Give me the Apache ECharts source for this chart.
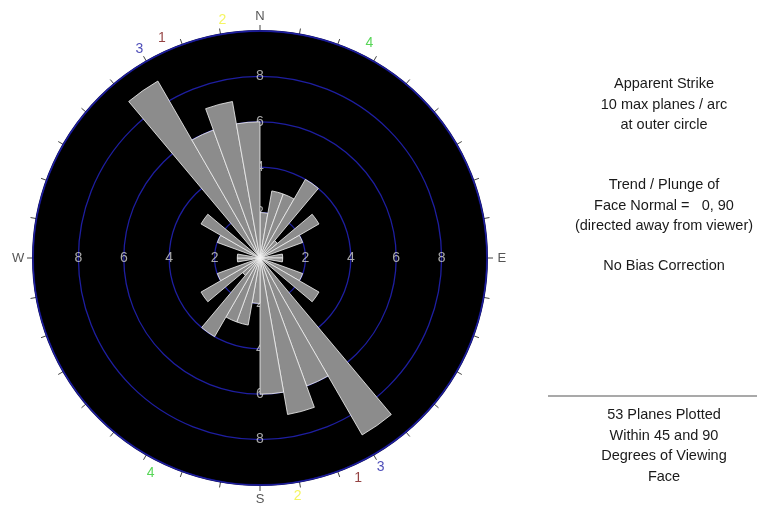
<!DOCTYPE html>
<html>
<head>
<meta charset="utf-8">
<style>
  html, body { margin: 0; padding: 0; background: #ffffff; }
  #chart { width: 757px; height: 506px; }
</style>
<script src="https://cdn.jsdelivr.net/npm/echarts@6/dist/echarts.min.js"></script>
</head>
<body>
<div id="chart"></div>
<script>
// 10-degree strike bins, bearing measured clockwise from north
const binNames = [
  '0-10','10-20','20-30','30-40','40-50','50-60','60-70','70-80','80-90',
  '90-100','100-110','110-120','120-130','130-140','140-150','150-160','160-170','170-180',
  '180-190','190-200','200-210','210-220','220-230','230-240','240-250','250-260','260-270',
  '270-280','280-290','290-300','300-310','310-320','320-330','330-340','340-350','350-360'
];
// planes per arc (bidirectional strike, so each bin repeats 180 degrees on)
const planeCounts = [
  2, 3, 3, 4, 1, 3, 2, 0, 1,
  1, 0, 2, 3, 0, 9, 6, 7, 6,
  2, 3, 3, 4, 1, 3, 2, 0, 1,
  1, 0, 2, 3, 0, 9, 6, 7, 6
];

// ring scale
const ringValues = [2, 4, 6, 8];
const ringLabelBearings = [0, 90, 180, 270];

// compass letters
const compassLetters = ['N', 'E', 'S', 'W'];
const compassBearings = [0, 90, 180, 270];

// joint set markers around the rim
const setNames = ['1', '2', '3', '4', '1', '2', '3', '4'];
const setBearings = [336, 351, 330, 27, 156, 171, 150, 207];
const setColors = {
  '1': '#7a1414',
  '2': '#f2f23c',
  '3': '#1e1ea6',
  '4': '#2ecc2e'
};

// side notes
const infoTop = ['Apparent Strike', '10 max planes / arc', 'at outer circle'];
const infoMiddle = ['Trend / Plunge of', 'Face Normal =   0, 90', '(directed away from viewer)'];
const infoBias = ['No Bias Correction'];
const infoBottom = ['53 Planes Plotted', 'Within 45 and 90', 'Degrees of Viewing', 'Face'];

const FONT = '"Liberation Sans", Arial, sans-serif';
const CENTER = [260, 258];
const RADIUS = 227;

const ringLabelData = [];
ringValues.forEach(function (v) {
  ringLabelBearings.forEach(function (b) {
    ringLabelData.push({ value: [v, b], name: String(v) });
  });
});

const compassData = compassLetters.map(function (c, i) {
  return { value: [10.65, compassBearings[i]], name: c };
});

const setData = setNames.map(function (s, i) {
  return {
    value: [10.62, setBearings[i]],
    name: s,
    label: { color: setColors[s] }
  };
});

function textBlock(lines, topY) {
  return {
    type: 'text',
    x: 664,
    y: topY,
    style: {
      text: lines.join('\n'),
      font: '14.5px ' + FONT,
      fill: '#1a1a1a',
      align: 'center',
      verticalAlign: 'top',
      lineHeight: 20.5
    }
  };
}

const chart = echarts.init(document.getElementById('chart'), null, { renderer: 'canvas' });

chart.setOption({
  backgroundColor: '#ffffff',
  animation: false,
  polar: [
    { center: CENTER, radius: RADIUS },
    { center: CENTER, radius: RADIUS }
  ],
  angleAxis: [
    {
      polarIndex: 0,
      type: 'category',
      data: binNames,
      startAngle: 90,
      clockwise: true,
      boundaryGap: true,
      z: 0,
      axisLine: { show: true, lineStyle: { color: '#0a0a4a', width: 2 } },
      axisTick: { show: true, interval: 0, length: 6, lineStyle: { color: '#444444', width: 1 } },
      axisLabel: { show: false },
      splitLine: { show: false }
    },
    {
      polarIndex: 1,
      type: 'value',
      min: 0,
      max: 360,
      startAngle: 90,
      clockwise: true,
      axisLine: { show: false },
      axisTick: { show: false },
      axisLabel: { show: false },
      splitLine: { show: false }
    }
  ],
  radiusAxis: [
    {
      // black face of the diagram
      polarIndex: 0,
      type: 'value',
      min: 0,
      max: 10,
      interval: 2,
      z: 0,
      axisLine: { show: false },
      axisTick: { show: false },
      axisLabel: { show: false },
      splitLine: { show: false },
      splitArea: { show: true, areaStyle: { color: ['#000000'] } }
    },
    {
      // blue rings at 2, 4, 6, 8
      polarIndex: 1,
      type: 'value',
      min: 0,
      max: 10,
      interval: 2,
      z: 1,
      axisLine: { show: false },
      axisTick: { show: false },
      axisLabel: { show: false },
      splitLine: { show: true, lineStyle: { color: '#1e1ea0', width: 1.3 } },
      splitArea: { show: false }
    }
  ],
  series: [
    {
      name: 'ring labels',
      type: 'scatter',
      coordinateSystem: 'polar',
      polarIndex: 1,
      z: 2,
      silent: true,
      symbolSize: 1,
      itemStyle: { color: 'rgba(0,0,0,0)' },
      label: {
        show: true,
        position: 'inside',
        formatter: '{b}',
        color: '#d2d2d2',
        fontFamily: FONT,
        fontSize: 14
      },
      data: ringLabelData
    },
    {
      name: 'strike',
      type: 'bar',
      coordinateSystem: 'polar',
      polarIndex: 0,
      z: 4,
      barCategoryGap: '0%',
      itemStyle: {
        color: '#8c8c8c',
        borderColor: '#f4f4f4',
        borderWidth: 0.8
      },
      data: planeCounts
    },
    {
      name: 'compass',
      type: 'scatter',
      coordinateSystem: 'polar',
      polarIndex: 1,
      clip: false,
      silent: true,
      symbolSize: 1,
      itemStyle: { color: 'rgba(0,0,0,0)' },
      label: {
        show: true,
        position: 'inside',
        formatter: '{b}',
        color: '#2a2a2a',
        fontFamily: FONT,
        fontSize: 13
      },
      data: compassData
    },
    {
      name: 'sets',
      type: 'scatter',
      coordinateSystem: 'polar',
      polarIndex: 1,
      clip: false,
      silent: true,
      symbolSize: 1,
      itemStyle: { color: 'rgba(0,0,0,0)' },
      label: {
        show: true,
        position: 'inside',
        formatter: '{b}',
        fontFamily: FONT,
        fontSize: 14
      },
      data: setData
    }
  ],
  graphic: [
    textBlock(infoTop, 74),
    textBlock(infoMiddle, 175),
    textBlock(infoBias, 256),
    {
      type: 'line',
      shape: { x1: 548, y1: 396, x2: 757, y2: 396 },
      style: { stroke: '#555555', lineWidth: 1.2 }
    },
    textBlock(infoBottom, 405)
  ]
});
</script>
</body>
</html>
